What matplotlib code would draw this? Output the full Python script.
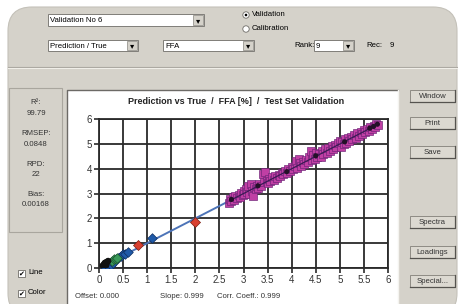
import numpy as np
import matplotlib
matplotlib.use("Agg")
import matplotlib.pyplot as plt
from matplotlib.patches import Rectangle, FancyBboxPatch, Circle

plt.rcParams['font.family'] = ['Liberation Sans', 'DejaVu Sans']

# ---- data ----
black_true = [0.08, 0.10, 0.12, 0.14, 0.15, 0.17, 0.19]
black_pred = [0.10, 0.14, 0.20, 0.22, 0.12, 0.25, 0.28]
green_true = [0.28, 0.32, 0.35, 0.38]
green_pred = [0.30, 0.35, 0.38, 0.42]
blue_true = [0.12, 0.18, 0.22, 0.25, 0.30, 0.40, 0.45, 0.50, 0.55, 0.60, 1.10]
blue_pred = [0.05, 0.10, 0.15, 0.12, 0.20, 0.42, 0.48, 0.55, 0.58, 0.66, 1.21]
red_true = [0.80, 2.00]
red_pred = [0.93, 1.87]
pink_true = [2.70, 2.72, 2.75, 2.78, 2.80, 2.83, 2.86, 2.90, 2.92, 2.95, 2.98, 3.00,
             3.02, 3.05, 3.08, 3.10, 3.12, 3.15, 3.18, 3.20, 3.22, 3.25, 3.28, 3.30,
             3.33, 3.36, 3.40, 3.42, 3.45, 3.48, 3.50, 3.53, 3.56, 3.60, 3.63, 3.66,
             3.70, 3.73, 3.76, 3.80, 3.83, 3.86, 3.90, 3.93, 3.96, 4.00, 4.03, 4.06,
             4.10, 4.12, 4.15, 4.18, 4.20, 4.23, 4.26, 4.30, 4.33, 4.36, 4.40, 4.42,
             4.45, 4.48, 4.50, 4.53, 4.56, 4.60, 4.63, 4.66, 4.70, 4.73, 4.76, 4.80,
             4.83, 4.86, 4.90, 4.93, 4.96, 5.00, 5.02, 5.05, 5.08, 5.10, 5.13, 5.16,
             5.20, 5.23, 5.26, 5.30, 5.33, 5.36, 5.40, 5.43, 5.46, 5.50, 5.53, 5.56,
             5.60, 5.63, 5.66, 5.70, 5.73, 5.76, 5.80]
pink_pred = [2.62, 2.78, 2.70, 2.85, 2.74, 2.90, 2.80, 2.95, 2.86, 3.02, 2.92, 3.10,
             2.96, 3.20, 3.05, 3.30, 3.00, 3.38, 3.12, 2.88, 3.25, 3.18, 3.32, 3.22,
             3.40, 3.30, 3.80, 3.45, 3.85, 3.50, 3.42, 3.58, 3.50, 3.65, 3.55, 3.72,
             3.62, 3.76, 3.70, 3.84, 3.78, 3.92, 3.82, 3.98, 3.90, 4.06, 3.97, 4.12,
             4.30, 4.04, 4.40, 4.22, 4.10, 4.28, 4.18, 4.36, 4.25, 4.45, 4.70, 4.34,
             4.55, 4.40, 4.62, 4.46, 4.60, 4.48, 4.70, 4.58, 4.80, 4.62, 4.82, 4.72,
             4.90, 4.78, 4.96, 4.86, 5.02, 5.12, 4.86, 5.08, 4.98, 5.18, 5.02, 5.22,
             5.10, 5.28, 5.20, 5.36, 5.25, 5.42, 5.32, 5.48, 5.40, 5.55, 5.46, 5.60,
             5.52, 5.66, 5.60, 5.72, 5.68, 5.78, 5.75]
dark_true = [2.75, 3.30, 3.90, 4.50, 5.10, 5.62, 5.70, 5.78]
dark_pred = [2.76, 3.31, 3.88, 4.52, 5.08, 5.63, 5.70, 5.79]
offset = 0.000
slope = 0.999
corr = 0.999
x_ticks = [0, 0.5, 1, 1.5, 2, 2.5, 3, 3.5, 4, 4.5, 5, 5.5, 6]
x_labels = ['0', '0.5', '1', '1.5', '2', '2.5', '3', '3.5', '4', '4.5', '5', '5.5', '6']
y_ticks = [0, 1, 2, 3, 4, 5, 6]
stats = [('R²:', '99.79'), ('RMSEP:', '0.0848'), ('RPD:', '22'), ('Bias:', '0.00168')]
buttons = ['Window', 'Print', 'Save', 'Spectra', 'Loadings', 'Special...']

W, H = 458, 304
GRAY = '#d5d2ca'
fig = plt.figure(figsize=(W / 100, H / 100), dpi=100)
fig.patch.set_facecolor('white')

# background "window" drawn in pixel coordinates
bg = fig.add_axes([0, 0, 1, 1])
bg.set_xlim(0, W)
bg.set_ylim(H, 0)
bg.axis('off')

bg.add_patch(FancyBboxPatch((8, 7), 449, 310, boxstyle='round,pad=0,rounding_size=24',
                            fc=GRAY, ec='#c4c1b9', lw=0.8))
# separator
bg.plot([8, 457], [67, 67], color='#a9a69e', lw=0.8)
bg.plot([8, 457], [68.2, 68.2], color='#f0eee8', lw=0.8)

UI = 5.6


def combo(x0, y0, x1, y1, text):
    bg.add_patch(Rectangle((x0, y0), x1 - x0, y1 - y0, fc='white', ec='#7f7d78', lw=0.7))
    bg.add_patch(Rectangle((x1 - 11, y0 + 1.2), 10, y1 - y0 - 2.4, fc=GRAY, ec='#8a8780', lw=0.5))
    bg.text(x1 - 6, (y0 + y1) / 2 + 0.5, '▾', fontsize=6, ha='center', va='center',
            family='DejaVu Sans', color='black')
    bg.text(x0 + 2, (y0 + y1) / 2 + 0.5, text, fontsize=UI, ha='left', va='center')


def button(x0, y0, x1, y1, text):
    bg.add_patch(Rectangle((x0, y0), x1 - x0, y1 - y0, fc='#dcd9d1', ec='#8e8b84', lw=0.7))
    bg.plot([x0, x1, x1], [y1, y1, y0], color='#55534f', lw=0.9)
    bg.text((x0 + x1) / 2, (y0 + y1) / 2 + 0.3, text, fontsize=UI, ha='center', va='center',
            color='#333333')


def checkbox(x, y, text):
    bg.add_patch(Rectangle((x, y - 3.5), 7, 7, fc='white', ec='#6f6d68', lw=0.6))
    bg.text(x + 3.5, y + 0.3, '✔', fontsize=5, ha='center', va='center', family='DejaVu Sans')
    bg.text(x + 10, y, text, fontsize=UI, ha='left', va='center')


combo(48, 14, 204, 26, 'Validation No 6')
combo(48, 40, 138, 51, 'Prediction / True')
combo(163, 40, 254, 51, 'FFA')
combo(314, 40, 354, 51, '9')
bg.text(294, 45.5, 'Rank:', fontsize=UI, ha='left', va='center')
bg.text(366, 45.5, 'Rec:', fontsize=UI, ha='left', va='center')
bg.text(390, 45.5, '9', fontsize=UI, ha='left', va='center')

for yy, lab, on in [(15, 'Validation', True), (29, 'Calibration', False)]:
    bg.add_patch(Circle((246, yy), 3.2, fc='white', ec='#6f6d68', lw=0.6))
    if on:
        bg.add_patch(Circle((246, yy), 1.3, fc='black', ec='none'))
    bg.text(252, yy, lab, fontsize=UI, ha='left', va='center')

# stats box
bg.add_patch(Rectangle((9, 88), 53, 144, fc='none', ec='#a9a69e', lw=0.8))
sy = 103
for name, val in stats:
    bg.text(36, sy, name, fontsize=UI, ha='center', va='center', color='#333333')
    bg.text(36, sy + 10.5, val, fontsize=UI, ha='center', va='center', color='#333333')
    sy += 30.5

checkbox(18, 273, 'Line')
checkbox(18, 293, 'Color')

# chart frame
bg.add_patch(Rectangle((67, 90), 331, 220, fc='white', ec='none'))
bg.plot([67, 67, 398], [310, 90, 90], color='#6c6a66', lw=1.0)
bg.plot([398, 398], [90, 310], color='#f4f3ef', lw=1.0)

by = [90, 117, 146, 216, 246, 275]
for b, y0 in zip(buttons, by):
    button(410, y0, 455, y0 + 12, b)

bg.text(236, 101, 'Prediction vs True  /  FFA [%]  /  Test Set Validation', fontsize=6.5,
        fontweight='bold', ha='center', va='center', color='#222222')
bg.text(75, 297, 'Offset: %.3f' % offset, fontsize=UI, ha='left', va='center', color='#333333')
bg.text(160, 297, 'Slope: %.3f' % slope, fontsize=UI, ha='left', va='center', color='#333333')
bg.text(217, 297, 'Corr. Coeff.: %.3f' % corr, fontsize=UI, ha='left', va='center', color='#333333')

# ---- the plot itself ----
ax = fig.add_axes([99 / W, (H - 268) / H, (388 - 99) / W, (268 - 119) / H])
ax.set_facecolor('white')
ax.set_xlim(0, 6)
ax.set_ylim(0, 6)
ax.set_xticks(x_ticks)
ax.set_xticklabels(x_labels)
ax.set_yticks(y_ticks)
ax.tick_params(length=3.5, width=1.2, color='#2a2a2a', labelsize=7, pad=1.5,
               labelcolor='#333333')
ax.grid(True, color='#2a2a2a', lw=1.3)
ax.set_axisbelow(True)
for s in ax.spines.values():
    s.set_color('#2a2a2a')
    s.set_linewidth(1.3)

# regression line from offset / slope
all_true = black_true + green_true + blue_true + red_true + pink_true
lx = np.array([min(all_true), max(all_true)])
ax.plot(lx, offset + slope * lx, color='#4d74b8', lw=1.4, zorder=3)

ax.scatter(pink_true, pink_pred, marker='s', s=28, c='#c03fa4', edgecolors='#6a2275',
           linewidths=0.45, zorder=4)
px = np.array([min(pink_true), max(pink_true)])
ax.plot(px, offset + slope * px, color='#3a1a55', lw=0.9, zorder=4.5)
ax.scatter(dark_true, dark_pred, marker='o', s=14, c='#231028', edgecolors='none', zorder=5)
ax.scatter(blue_true, blue_pred, marker='D', s=24, c='#1f5aa8', edgecolors='#0e2e60',
           linewidths=0.5, zorder=4)
ax.scatter(green_true, green_pred, marker='D', s=24, c='#3a9a5a', edgecolors='#1c5530',
           linewidths=0.5, zorder=4)
ax.scatter(black_true, black_pred, marker='o', s=22, c='#111111', edgecolors='none', zorder=4)
ax.scatter(red_true, red_pred, marker='D', s=26, c='#d84030', edgecolors='#7a1c10',
           linewidths=0.5, zorder=4)

fig.savefig('out.png', dpi=100)
